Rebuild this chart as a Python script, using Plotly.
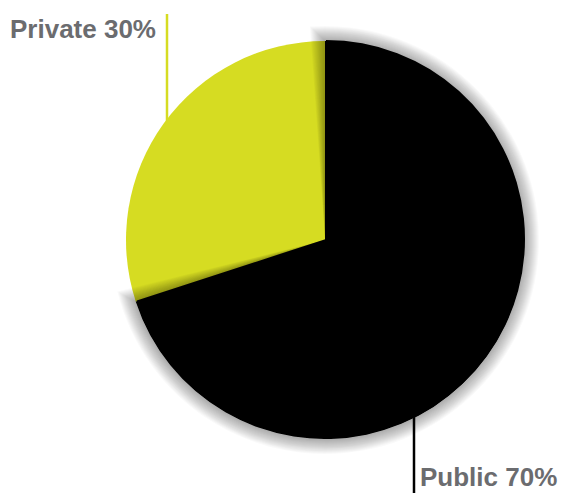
import plotly.graph_objects as go

labels = ["Public", "Private"]
values = [70, 30]
colors = ["#000000", "#d6dc22"]
label_texts = ["Public 70%", "Private 30%"]

W, H = 561, 493
cx, cy, r = 325, 240, 199  # pixel geometry of the pie

def px_x(x):
    return x / W

def px_y(y):
    return 1 - y / H

def dom(rad, dx=0, dy=0):
    return dict(x=[px_x(cx + dx - rad), px_x(cx + dx + rad)],
                y=[px_y(cy + dy + rad), px_y(cy + dy - rad)])

fig = go.Figure()
# base pie (yellow slice visible; black drawn again on top later)
fig.add_trace(go.Pie(
    labels=labels, values=values, sort=False, direction="clockwise", rotation=0,
    marker=dict(colors=colors, line=dict(width=0)),
    textinfo="none", hoverinfo="skip", showlegend=False, domain=dom(r),
))
# soft shadow cast by the black slice
total = sum(values)
for grow in range(15, 0, -1):
    ext = grow * 0.27
    ext_val = ext / 360 * total
    fig.add_trace(go.Pie(
        labels=labels, values=[values[0] + 2 * ext_val, values[1] - 2 * ext_val],
        sort=False, direction="clockwise", rotation=-ext,
        marker=dict(colors=["rgba(0,0,0,0.024)", "rgba(0,0,0,0)"], line=dict(width=0)),
        textinfo="none", hoverinfo="skip", showlegend=False, domain=dom(r + grow),
    ))
# black slice on top
fig.add_trace(go.Pie(
    labels=labels, values=values, sort=False, direction="clockwise", rotation=0,
    marker=dict(colors=[colors[0], "rgba(0,0,0,0)"], line=dict(width=0)),
    textinfo="none", hoverinfo="label+percent", showlegend=False, domain=dom(r, 1, -1),
))

shapes = [
    dict(type="line", xref="paper", yref="paper", layer="below",
         x0=px_x(167), x1=px_x(167), y0=px_y(14), y1=px_y(125),
         line=dict(color=colors[1], width=2.5)),
    dict(type="line", xref="paper", yref="paper", layer="below",
         x0=px_x(414), x1=px_x(414), y0=px_y(410), y1=px_y(493),
         line=dict(color=colors[0], width=2.5)),
]

font = dict(family="Liberation Sans, Arial, sans-serif", size=26, color="#6b6c6f")
annotations = [
    dict(text=f"<b>{label_texts[1]}</b>", xref="paper", yref="paper",
         x=px_x(158), y=px_y(46), xanchor="right", yanchor="bottom",
         showarrow=False, font=font),
    dict(text=f"<b>{label_texts[0]}</b>", xref="paper", yref="paper",
         x=px_x(419), y=px_y(493), xanchor="left", yanchor="bottom",
         showarrow=False, font=font, borderpad=0),
]

fig.update_layout(
    width=W, height=H, margin=dict(l=0, r=0, t=0, b=0),
    paper_bgcolor="white", plot_bgcolor="white",
    shapes=shapes, annotations=annotations,
)
fig.write_html("out.html")
